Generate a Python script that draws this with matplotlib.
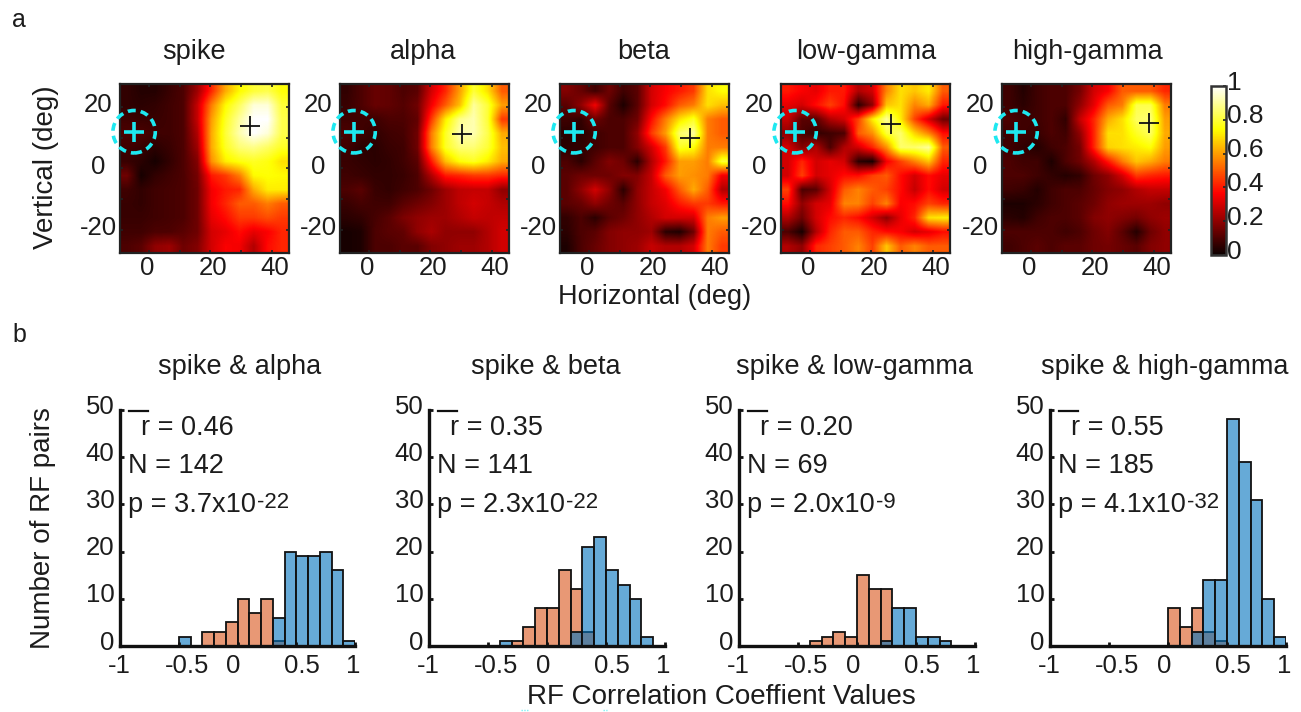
import numpy as np
import matplotlib
matplotlib.use("Agg")
import matplotlib.pyplot as plt
from matplotlib.lines import Line2D
from matplotlib.patches import Circle
from matplotlib.transforms import ScaledTranslation

plt.rcParams["font.family"] = ["Liberation Sans", "DejaVu Sans"]
plt.rcParams["axes.unicode_minus"] = False

W, H = 1301, 712
TEXT = "#1c1c1c"

# ── Panel a: receptive field maps, top row first ──────────────────────────────
RF_NAMES = ["spike", "alpha", "beta", "low-gamma", "high-gamma"]
RF_SPIKE = [
    [.06, .04, .04, .07, .10, .22, .42, .62, .74, .80, .82, .75],
    [.06, .05, .06, .08, .10, .28, .55, .74, .84, .96, .96, .80],
    [.08, .07, .07, .08, .10, .28, .60, .78, .90, 1.0, 1.0, .82],
    [.10, .10, .08, .08, .10, .25, .62, .80, .92, 1.0, .96, .82],
    [.08, .07, .05, .07, .10, .22, .62, .78, .86, .88, .84, .78],
    [.07, .05, .02, .06, .10, .18, .58, .72, .76, .78, .76, .70],
    [.15, .02, .06, .08, .10, .16, .40, .45, .55, .74, .75, .74],
    [.08, .06, .08, .09, .10, .15, .35, .40, .42, .62, .72, .72],
    [.07, .06, .08, .09, .10, .15, .35, .42, .50, .50, .55, .50],
    [.07, .07, .08, .09, .10, .15, .33, .38, .45, .45, .48, .45],
    [.08, .08, .10, .10, .12, .15, .30, .33, .38, .33, .36, .42],
    [.10, .12, .20, .22, .15, .18, .30, .36, .35, .25, .38, .42],
]
RF_ALPHA = [
    [.06, .10, .14, .13, .10, .12, .30, .42, .60, .80, .70, .50],
    [.07, .10, .14, .13, .11, .15, .35, .50, .65, .90, .80, .60],
    [.08, .08, .08, .10, .10, .13, .45, .72, .88, .92, .80, .45],
    [.10, .08, .06, .08, .09, .15, .55, .78, .92, .92, .82, .62],
    [.08, .05, .05, .07, .08, .15, .55, .78, .86, .86, .80, .65],
    [.07, .06, .05, .06, .08, .12, .40, .65, .75, .78, .72, .62],
    [.08, .07, .06, .06, .07, .10, .25, .40, .42, .45, .45, .42],
    [.10, .12, .07, .06, .08, .10, .15, .22, .27, .28, .28, .20],
    [.07, .09, .08, .08, .12, .15, .18, .22, .27, .30, .28, .25],
    [.05, .06, .09, .12, .17, .20, .22, .22, .25, .28, .27, .28],
    [.02, .03, .10, .12, .13, .20, .24, .20, .20, .20, .25, .30],
    [.02, .03, .10, .10, .12, .12, .18, .20, .22, .22, .25, .30],
]
RF_BETA = [
    [.18, .14, .08, .15, .08, .12, .30, .36, .40, .45, .70, .75],
    [.12, .20, .35, .12, .03, .12, .30, .38, .50, .55, .70, .65],
    [.08, .06, .15, .10, .10, .15, .38, .55, .70, .78, .55, .50],
    [.05, .05, .08, .10, .10, .20, .45, .60, .85, .90, .55, .50],
    [.05, .06, .08, .10, .10, .18, .30, .45, .78, .75, .55, .55],
    [.10, .05, .12, .18, .15, .05, .25, .40, .60, .60, .55, .80],
    [.12, .15, .15, .15, .18, .18, .28, .50, .60, .58, .55, .35],
    [.12, .20, .30, .20, .05, .20, .28, .35, .50, .62, .50, .25],
    [.12, .14, .20, .15, .12, .20, .28, .32, .40, .45, .45, .40],
    [.06, .10, .05, .12, .15, .20, .25, .30, .30, .30, .55, .60],
    [.05, .10, .12, .18, .20, .20, .22, .05, .03, .15, .55, .50],
    [.03, .10, .14, .18, .20, .22, .28, .25, .25, .30, .55, .45],
]
RF_LOW = [
    [.40, .36, .33, .40, .40, .25, .30, .56, .70, .66, .72, .50],
    [.33, .30, .38, .46, .38, .05, .20, .66, .70, .56, .62, .40],
    [.28, .12, .12, .25, .30, .46, .72, .90, .72, .46, .30, .15],
    [.20, .10, .06, .08, .10, .50, .58, .80, .85, .68, .56, .38],
    [.30, .18, .25, .10, .25, .30, .42, .58, .85, .85, .90, .50],
    [.30, .42, .30, .33, .30, .05, .02, .35, .46, .56, .66, .42],
    [.30, .46, .30, .33, .38, .38, .46, .50, .38, .30, .38, .33],
    [.46, .10, .12, .30, .50, .56, .50, .46, .38, .28, .38, .30],
    [.38, .20, .30, .33, .56, .56, .46, .56, .36, .38, .46, .42],
    [.25, .15, .30, .38, .42, .38, .30, .20, .33, .42, .70, .72],
    [.10, .02, .25, .42, .50, .50, .42, .38, .36, .30, .33, .38],
    [.25, .20, .42, .46, .50, .56, .46, .66, .50, .56, .50, .50],
]
RF_HIGH = [
    [.08, .04, .08, .10, .10, .16, .30, .36, .50, .50, .50, .42],
    [.08, .05, .08, .10, .10, .20, .33, .50, .55, .82, .82, .55],
    [.10, .08, .08, .10, .06, .28, .42, .62, .70, .84, .86, .60],
    [.08, .08, .07, .10, .08, .20, .42, .70, .70, .78, .84, .62],
    [.08, .06, .04, .08, .10, .16, .42, .68, .70, .72, .75, .60],
    [.10, .08, .08, .03, .10, .15, .25, .40, .55, .66, .62, .55],
    [.10, .10, .08, .06, .04, .06, .15, .20, .30, .45, .42, .40],
    [.08, .07, .04, .08, .10, .10, .14, .18, .20, .25, .28, .28],
    [.03, .03, .05, .08, .10, .12, .15, .20, .22, .22, .22, .20],
    [.05, .04, .08, .10, .10, .12, .18, .20, .18, .16, .20, .22],
    [.10, .10, .10, .10, .08, .10, .15, .18, .12, .04, .15, .20],
    [.08, .10, .12, .10, .12, .12, .15, .16, .14, .12, .18, .20],
]
RF_MAPS = [RF_SPIKE, RF_ALPHA, RF_BETA, RF_LOW, RF_HIGH]
PEAK_X = [33.0, 30.3, 32.9, 26.4, 38.4]
PEAK_Y = [13.6, 11.2, 10.0, 14.4, 14.8]
FIX_X, FIX_Y = -4.9, 11.9

# ── Panel b: histogram counts, bins of 0.1 from -1 to 1 ───────────────────────
BIN_LEFT = [-1.0, -0.9, -0.8, -0.7, -0.6, -0.5, -0.4, -0.3, -0.2, -0.1,
            0.0, 0.1, 0.2, 0.3, 0.4, 0.5, 0.6, 0.7, 0.8, 0.9]
HIST_NAMES = ["spike & alpha", "spike & beta", "spike & low-gamma", "spike & high-gamma"]
SIG_ALPHA  = [0, 0, 0, 0, 0, 2, 0, 0, 0, 0, 0, 0, 0, 6, 20, 19, 19, 20, 16, 1]
NS_ALPHA   = [0, 0, 0, 0, 0, 0, 0, 3, 3, 5, 10, 7, 10, 1, 0, 0, 0, 0, 0, 0]
SIG_BETA   = [0, 0, 0, 0, 0, 0, 1, 0, 0, 0, 0, 0, 3, 21, 23, 16, 13, 10, 2, 0]
NS_BETA    = [0, 0, 0, 0, 0, 0, 0, 1, 4, 8, 8, 16, 12, 3, 0, 0, 0, 0, 0, 0]
SIG_LOW    = [0, 0, 0, 0, 0, 0, 0, 0, 0, 0, 0, 0, 1, 8, 8, 2, 2, 1, 0, 0]
NS_LOW     = [0, 0, 0, 0, 0, 0, 1, 2, 3, 2, 15, 12, 12, 0, 0, 0, 0, 0, 0, 0]
SIG_HIGH   = [0, 0, 0, 0, 0, 0, 0, 0, 0, 0, 0, 0, 3, 14, 14, 48, 39, 31, 10, 2]
NS_HIGH    = [0, 0, 0, 0, 0, 0, 0, 0, 0, 0, 8, 4, 8, 3, 1, 0, 0, 0, 0, 0]
SIG_COUNTS = [SIG_ALPHA, SIG_BETA, SIG_LOW, SIG_HIGH]
NS_COUNTS  = [NS_ALPHA, NS_BETA, NS_LOW, NS_HIGH]
R_TEXT = ["r = 0.46", "r = 0.35", "r = 0.20", "r = 0.55"]
N_TEXT = ["N = 142", "N = 141", "N = 69", "N = 185"]
P_TEXT = ["p = 3.7x10", "p = 2.3x10", "p = 2.0x10", "p = 4.1x10"]
P_EXP  = ["-22", "-22", "-9", "-32"]

fig = plt.figure(figsize=(W / 100, H / 100), dpi=100, facecolor="white")


def px_axes(left, top, right, bottom):
    return fig.add_axes([left / W, 1 - bottom / H, (right - left) / W, (bottom - top) / H])


def fig_text(x, y, s, **kw):
    kw.setdefault("color", TEXT)
    kw.setdefault("fontsize", 19.5)
    kw.setdefault("ha", "center")
    kw.setdefault("va", "center")
    return fig.text(x / W, 1 - y / H, s, **kw)


def shift(label, dx, dy):
    label.set_transform(label.get_transform()
                        + ScaledTranslation(dx / 100, dy / 100, fig.dpi_scale_trans))


# ── Panel a ───────────────────────────────────────────────────────────────────
rf_lefts = [120, 340, 560, 781, 1002]
rf_title_x = [194, 423, 644, 866, 1087]
im = None
for i, rf in enumerate(RF_MAPS):
    ax = px_axes(rf_lefts[i], 84, rf_lefts[i] + 169, 253)
    im = ax.imshow(np.array(rf), cmap="hot", vmin=0, vmax=1, origin="upper",
                   extent=(-9.5, 45.6, -27.5, 27.4), aspect="auto",
                   interpolation="bilinear")
    ax.set_xticks([0, 20, 40])
    ax.set_xticks([10, 30], minor=True)
    ax.set_yticks([-20, 0, 20])
    ax.set_yticks([-10, 10], minor=True)
    ax.tick_params(which="both", direction="in", length=2, width=1.2, top=True,
                   right=True, color="#222222")
    ax.tick_params(axis="x", which="major", labelsize=18.5, pad=2, labelcolor=TEXT)
    ax.tick_params(axis="y", which="major", labelsize=18.5, pad=15.5, labelcolor=TEXT)
    for s in ax.spines.values():
        s.set_linewidth(1.6)
        s.set_color("#222222")
    for lab, dx in zip(ax.get_xticklabels(), [-2, 3, 3]):
        shift(lab, dx, 0)
    for lab in ax.get_yticklabels():
        lab.set_ha("center")
        shift(lab, 0, 4)
    ax.plot([PEAK_X[i]], [PEAK_Y[i]], marker="+", ms=15, mew=1.3, color="#111111")
    ax.plot([FIX_X], [FIX_Y], marker="+", ms=14, mew=2.6, color="#1ee8f0", clip_on=False)
    ax.add_patch(Circle((FIX_X, FIX_Y), 6.9, fill=False, ec="#1ee8f0", lw=2.6,
                        ls=(0, (2.2, 1.4)), clip_on=False, zorder=5))
    ax.set_xlim(-9.5, 45.6)
    ax.set_ylim(-27.5, 27.4)
    fig_text(rf_title_x[i], 52, RF_NAMES[i])

cax = px_axes(1211, 86, 1226, 255)
cbar = fig.colorbar(im, cax=cax)
cbar.set_ticks([0, 0.2, 0.4, 0.6, 0.8, 1], labels=["0", "0.2", "0.4", "0.6", "0.8", "1"])
cbar.ax.tick_params(direction="in", length=2, width=1.2, labelsize=19, pad=1,
                    labelcolor=TEXT, color="#222222")
cbar.outline.set_linewidth(1.8)
cbar.outline.set_edgecolor("#333333")
for lab in cbar.ax.get_yticklabels():
    shift(lab, 0, 6)

fig_text(46, 167, "Vertical (deg)", rotation=90, fontsize=20)
fig_text(655, 297, "Horizontal (deg)", fontsize=19.5)
fig_text(19, 20, "a", fontsize=18)
fig_text(19, 335, "b", fontsize=18)

# ── Panel b ───────────────────────────────────────────────────────────────────
hist_lefts = [120, 429, 739, 1050]
hist_rights = [355, 665, 975, 1286]
title_x = [240, 546, 855, 1165]
bin_left = np.array(BIN_LEFT)
for i in range(4):
    ax = px_axes(hist_lefts[i], 410, hist_rights[i], 646)
    ns = np.array(NS_COUNTS[i])
    sig = np.array(SIG_COUNTS[i])
    ax.bar(bin_left[ns > 0], ns[ns > 0], width=0.1, align="edge",
           color=(0.85, 0.325, 0.098, 0.6), edgecolor="#111111", linewidth=1.3)
    ax.bar(bin_left[sig > 0], sig[sig > 0], width=0.1, align="edge",
           color=(0.0, 0.447, 0.741, 0.6), edgecolor="#111111", linewidth=1.3)
    ax.set_xlim(-1, 1)
    ax.set_ylim(0, 50)
    ax.set_xticks([-1, -0.5, 0, 0.5, 1], labels=["-1", "-0.5", "0", "0.5", "1"])
    ax.set_yticks([0, 10, 20, 30, 40, 50])
    ax.tick_params(direction="in", length=3, width=2, labelsize=18.5, labelcolor=TEXT,
                   color="#111111")
    ax.tick_params(axis="x", pad=5.5)
    ax.tick_params(axis="y", pad=4)
    ax.spines["top"].set_visible(False)
    ax.spines["right"].set_visible(False)
    ax.spines["left"].set_linewidth(2.4)
    ax.spines["bottom"].set_linewidth(2.4)
    ax.spines["left"].set_color("#111111")
    ax.spines["bottom"].set_color("#111111")
    for lab, dx in zip(ax.get_xticklabels(), [-1, 8, -4, 6, -2]):
        shift(lab, dx, 0)
    for lab in ax.get_yticklabels():
        shift(lab, 0, 6)

    ax.plot([-0.925, -0.76], [49.8, 49.8], color="#111111", lw=1.6, clip_on=False)
    ax.text(-0.82, 44.7, R_TEXT[i], fontsize=19.5, color=TEXT, va="baseline")
    ax.text(-0.935, 36.6, N_TEXT[i], fontsize=19.5, color=TEXT, va="baseline")
    p = ax.text(-0.935, 28.4, P_TEXT[i], fontsize=19.5, color=TEXT, va="baseline")
    ax.annotate(P_EXP[i], xy=(1, 0), xycoords=p, xytext=(1, 7),
                textcoords="offset points", fontsize=16, color=TEXT,
                ha="left", va="baseline")
    fig_text(title_x[i], 367, HIST_NAMES[i])

fig_text(43, 528, "Number of RF pairs", rotation=90, fontsize=20)
fig_text(721, 697, "RF Correlation Coeffient Values", fontsize=20)

# faint specks left at the bottom edge of the source figure
for x0, x1 in [(521, 528), (603, 607)]:
    fig.add_artist(Line2D([x0 / W, x1 / W], [1 - 709.5 / H] * 2, color="#7df0f5",
                          lw=1.0, ls=(0, (1, 1))))

fig.savefig("out.png", dpi=100)
